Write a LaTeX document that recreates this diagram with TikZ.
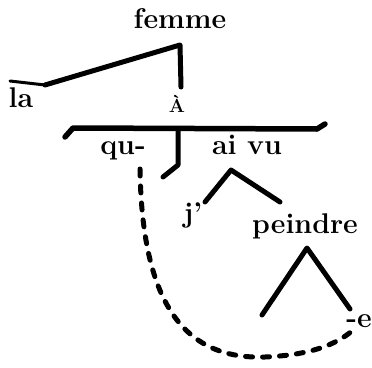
\documentclass[tikz,border=0pt]{standalone}
\begin{document}
\begin{tikzpicture}[x=1pt,y=-1pt,
  lbl/.style={anchor=base,inner sep=0pt,font=\fontsize{28.5}{32}\selectfont\bfseries},
  small/.style={anchor=base,inner sep=0pt,font=\fontsize{19}{21}\selectfont\bfseries},
  stroke/.style={line width=5pt,line cap=round,line join=round},
  link/.style={line width=5pt,line cap=round,dash pattern=on 7pt off 10pt}]
\useasboundingbox (0,0) rectangle (372,367);
% words
\node[lbl] (femme) at (180,28) {femme};
\node[lbl] (la) at (21,107) {la};
\node[small] (A) at (177,112) {À};
\node[lbl] (qu) at (123,154) {qu-};
\node[lbl] (aivu) at (247,154) {ai vu};
\node[lbl] (j) at (193,222) {j'};
\node[lbl] (peindre) at (305,233) {peindre};
\node[lbl,anchor=base east] (e) at (372,327) {-e};
% branch points
\coordinate (fL0) at (10,81);
\coordinate (fL1) at (45,85);
\coordinate (fTop) at (180,45);
\coordinate (fBot) at (181,87);
\coordinate (bL0) at (65,137);
\coordinate (bL1) at (73,128);
\coordinate (bR1) at (317,129);
\coordinate (bR0) at (325,124);
\coordinate (sTop) at (178,129);
\coordinate (sBot) at (178,165);
\coordinate (sEnd) at (163,177);
\coordinate (aApex) at (231,170);
\coordinate (aL) at (205,202);
\coordinate (aR) at (280,202);
\coordinate (pApex) at (307,248);
\coordinate (pL) at (262,315);
\coordinate (pR) at (350,309);
\coordinate (dStart) at (140,169);
\coordinate (dMid) at (265,357);
\coordinate (dEnd) at (352,331);
% trees
\draw[stroke,line width=3pt] (fL0) -- (fL1);
\draw[stroke] (fL1) -- (fTop) -- (fBot);
\draw[stroke,line width=5.5pt] (bL0) -- (bL1) -- (bR1) -- (bR0);
\draw[stroke] (sTop) -- (sBot) -- (sEnd);
\draw[stroke] (aL) -- (aApex) -- (aR);
\draw[stroke] (pL) -- (pApex) -- (pR);
% dashed link
\draw[link] (dStart) .. controls (142,300) and (182,360) .. (dMid)
  .. controls (310,355) and (335,345) .. (dEnd);
\end{tikzpicture}
\end{document}
